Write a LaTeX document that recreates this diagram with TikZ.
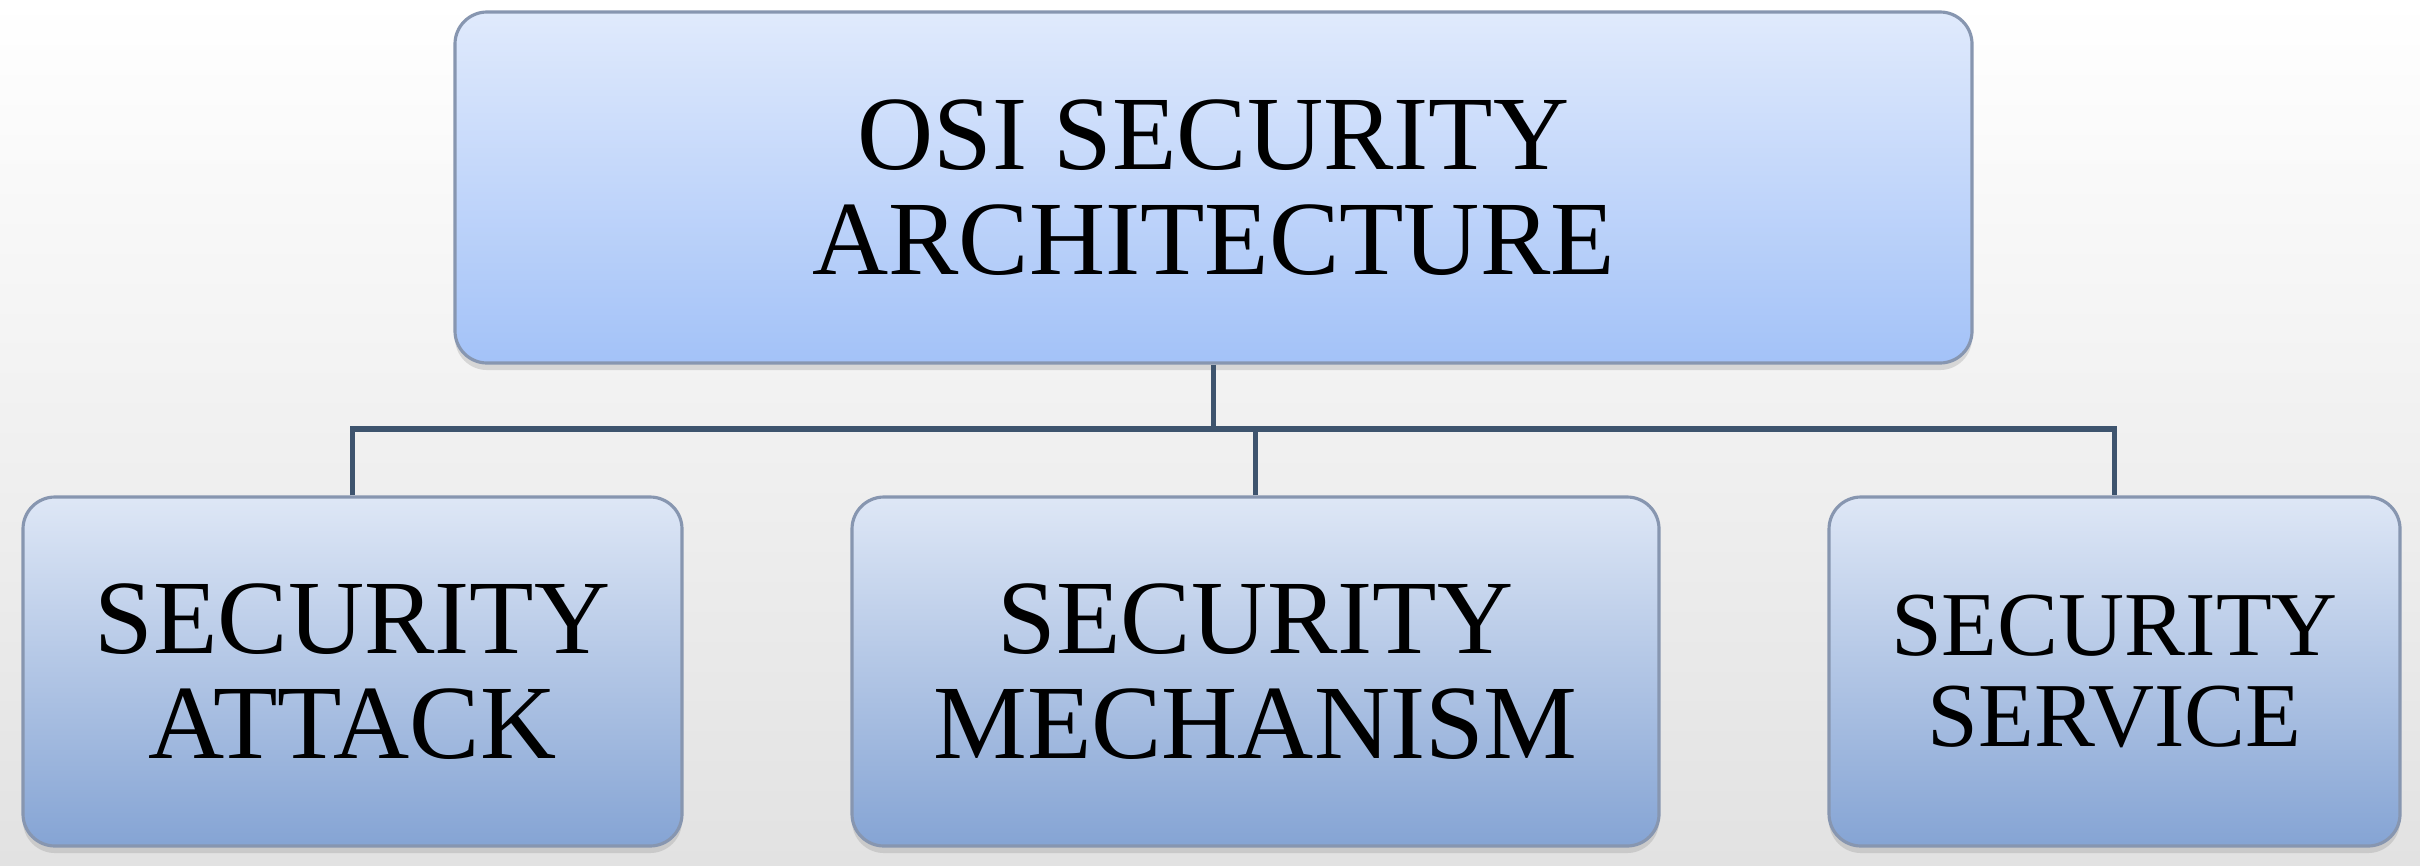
\documentclass[tikz,border=0pt]{standalone}
\usepackage{fontspec}
\setmainfont{Liberation Serif}
\usetikzlibrary{positioning,calc,shadows}
\definecolor{boxtop}{RGB}{224,234,252}
\definecolor{boxbot}{RGB}{163,194,248}
\definecolor{subtop}{RGB}{222,231,246}
\definecolor{subbot}{RGB}{133,164,212}
\definecolor{boxline}{RGB}{135,150,176}
\definecolor{wirecol}{RGB}{62,84,110}
\definecolor{bggray}{RGB}{226,226,226}
\tikzset{
  mainbox/.style={draw=boxline, line width=0.9pt, rounded corners=0.32cm,
    top color=boxtop, bottom color=boxbot, align=center, inner sep=0pt,
    drop shadow={opacity=0.25, shadow xshift=0pt, shadow yshift=-2pt},
    font=\fontsize{30}{30}\selectfont},
  subbox/.style={mainbox, top color=subtop, bottom color=subbot},
  link/.style={draw=wirecol, line width=1.5pt}
}

\begin{document}
\begin{tikzpicture}
\fill[top color=white, middle color=white, bottom color=bggray] (0,0) rectangle (24.2,8.65);
\useasboundingbox (0,0) rectangle (24.2,8.65);
% top of the tree
\draw (12.135,6.775) node (osi) [mainbox, minimum width=15.17cm, minimum height=3.51cm] {OSI SECURITY\\ARCHITECTURE};
% three branches
\draw (3.525,1.935) node (attack) [subbox, minimum width=6.59cm, minimum height=3.49cm] {SECURITY\\ATTACK};
\draw (12.555,1.935) node (mechanism) [subbox, minimum width=8.07cm, minimum height=3.49cm] {SECURITY\\MECHANISM};
\draw (21.145,1.935) node (service) [subbox, minimum width=5.71cm, minimum height=3.49cm, font=\fontsize{26}{26}\selectfont] {SECURITY\\SERVICE};
\coordinate (bar) at (0,4.36);
\draw[link] (osi.south) -- (osi.south |- bar);
\draw[link] (attack.north) |- (service.north |- bar) -- (service.north);
\draw[link] (mechanism.north) -- (mechanism.north |- bar);
\end{tikzpicture}
\end{document}
